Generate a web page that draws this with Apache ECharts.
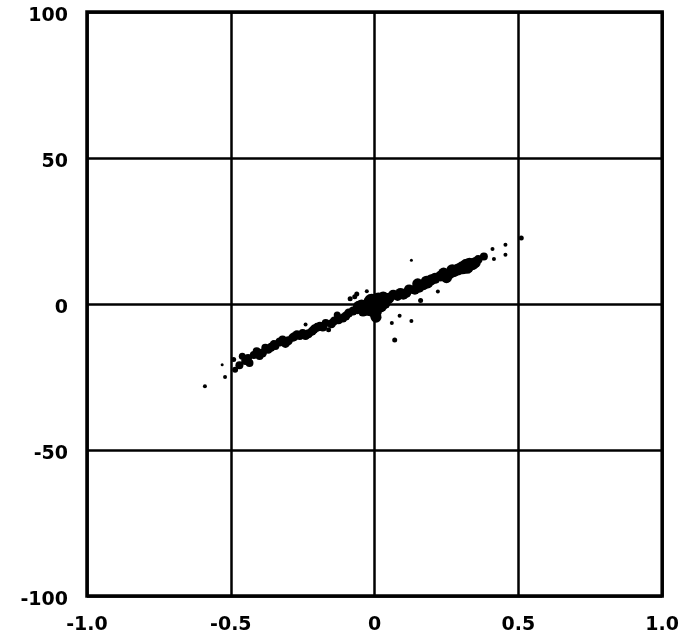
<!DOCTYPE html>
<html>
<head>
<meta charset="utf-8">
<script src="https://cdn.jsdelivr.net/npm/echarts@6/dist/echarts.min.js"></script>
<style>
html, body { margin: 0; padding: 0; background: #fff; }
#chart { width: 682px; height: 644px; }
</style>
</head>
<body>
<div id="chart"></div>
<script>
// x ticks / y ticks
var xTicks = [-1.0, -0.5, 0, 0.5, 1.0];
var yTicks = [-100, -50, 0, 50, 100];

// scatter (x, y, dot size)
var xs = [-0.59, -0.52, -0.53, -0.49, -0.485, -0.47, -0.46, -0.45, -0.435, -0.42, -0.41, -0.39, -0.38, -0.36, -0.345, -0.33,
          -0.32, -0.30, -0.286, -0.27, -0.25, -0.23, -0.217, -0.20, -0.19, -0.17, -0.16, -0.15, -0.125, -0.11, -0.09, -0.075,
          -0.069, -0.056, -0.045, -0.027, -0.02, -0.01, -0.005, 0, 0.005, 0.013, 0.02, 0.035, 0.045, 0.06, 0.07, 0.08,
          0.087, 0.10, 0.11, 0.128, 0.128, 0.14, 0.155, 0.17, 0.185, 0.197, 0.21, 0.22, 0.24, 0.26, 0.275, 0.29,
          0.305, 0.32, 0.34, 0.36, 0.38, 0.41, 0.415, 0.455, 0.455, 0.51, -0.13, -0.26,
          -0.44, -0.40, -0.37, -0.35, -0.31, -0.28, -0.24, -0.21, -0.18, -0.14, -0.10, -0.06, -0.04, 0.03, 0.05, 0.065,
          0.09, 0.12, 0.15, 0.18, 0.23, 0.25, 0.27, 0.33, 0.35, -0.062, -0.085, -0.24, 0.16];
var ys = [-28.2, -25, -20.8, -19, -22.5, -21, -17.9, -19.5, -20.2, -17.5, -16.2, -16.8, -15, -14.8, -14.4, -13,
          -12.2, -12.6, -11.6, -10.5, -9.9, -10.2, -9.3, -8.0, -7.6, -6.5, -8.8, -6.8, -5.4, -4.8, -3.1, -2.4,
          2.5, -0.8, -0.5, 4.4, -1.5, 0.8, 0.3, -2.3, -4.5, 1.5, -0.5, 0.3, 1.8, -6.5, -12.3, 2.6,
          -4, 3.2, 3.8, -5.8, 15, 4.9, 5.6, 6.6, 7.2, 8.3, 8.8, 4.3, 10.6, 10.3, 11.2, 11.8,
          12.4, 12.9, 13.6, 15.2, 16.3, 18.8, 15.4, 20.3, 16.9, 22.6, -3.8, -11.0,
          -18.5, -17.8, -15.5, -13.9, -13.5, -11.2, -10.8, -8.6, -7.9, -5.8, -4.1, -1.8, -2.6, 2.2, 2.0, 3.2,
          3.8, 5.0, 6.9, 7.8, 9.6, 9.0, 11.6, 13.8, 14.2, 3.4, 1.8, -7.0, 1.2];
var sizes = [4, 4, 3, 5, 6, 8, 7, 8, 8, 8, 8, 9, 8, 9, 8, 9,
             8, 9, 8, 9, 8, 9, 9, 9, 9, 8, 5, 9, 9, 9, 9, 9,
             5, 11, 12, 4, 15, 16, 16, 15, 11, 14, 14, 12, 11, 4, 5, 9,
             4, 10, 10, 4, 3, 10, 10, 11, 11, 11, 11, 4, 11, 11, 12, 12,
             13, 15, 12, 9, 8, 4, 4, 4, 4, 5, 7, 8,
             8, 8, 9, 9, 9, 9, 9, 9, 9, 9, 9, 10, 10, 12, 11, 10,
             10, 10, 11, 11, 11, 11, 12, 12, 11, 5, 5, 4, 5];

var chart = echarts.init(document.getElementById('chart'));

var points = [];
for (var i = 0; i < xs.length; i++) {
    points.push([xs[i], ys[i], sizes[i]]);
}

function fmtX(v) {
    if (v === 0) return '0';
    return v.toFixed(1);
}

var option = {
    backgroundColor: '#FFFFFF',
    animation: false,
    grid: {
        left: 87,
        right: 19,
        top: 12,
        bottom: 48,
        show: true,
        borderColor: '#000',
        borderWidth: 3.5,
        backgroundColor: 'transparent'
    },
    xAxis: {
        type: 'value',
        min: xTicks[0],
        max: xTicks[xTicks.length - 1],
        interval: 0.5,
        axisLine: { show: false },
        axisTick: { show: false },
        splitLine: { show: true, lineStyle: { color: '#000', width: 2.5 } },
        axisLabel: {
            formatter: fmtX,
            color: '#000',
            fontFamily: 'DejaVu Sans',
            fontWeight: 'bold',
            fontSize: 19,
            margin: 20
        }
    },
    yAxis: {
        type: 'value',
        min: yTicks[0],
        max: yTicks[yTicks.length - 1],
        interval: 50,
        axisLine: { show: false },
        axisTick: { show: false },
        splitLine: { show: true, lineStyle: { color: '#000', width: 2.5 } },
        axisLabel: {
            color: '#000',
            fontFamily: 'DejaVu Sans',
            fontWeight: 'bold',
            fontSize: 19,
            margin: 19,
            verticalAlign: 'top',
            lineHeight: 8
        }
    },
    series: [
        {
            type: 'scatter',
            data: points,
            symbol: 'circle',
            symbolSize: function (d) { return d[2]; },
            itemStyle: { color: '#000', opacity: 1 }
        }
    ]
};

chart.setOption(option);
window.addEventListener('resize', function () {
    chart.resize();
});
</script>
</body>
</html>
